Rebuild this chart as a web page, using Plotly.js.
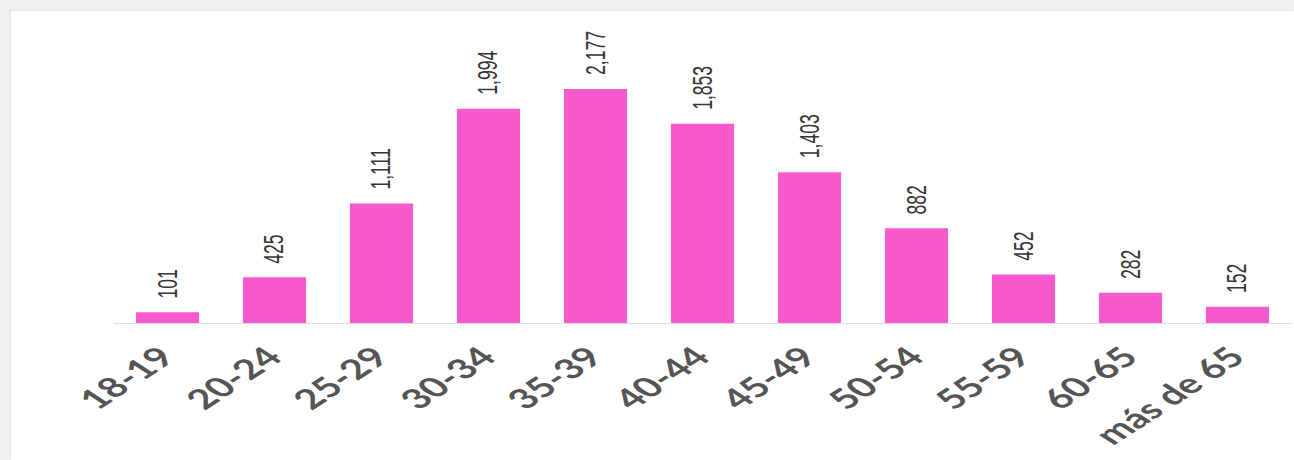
<!DOCTYPE html>
<html>
<head>
<meta charset="utf-8">
<script src="https://cdn.plot.ly/plotly-3.0.1.min.js"></script>
<style>
  html, body { margin: 0; padding: 0; width: 1294px; height: 460px; overflow: hidden; background: #efefef; }
  #wrap { position: absolute; left: 11px; top: 11px; width: 1283px; height: 449px; background: #fff; box-shadow: -1px -1px 0 #e4e4e4; overflow: hidden; }
  #chart { width: 1283px; height: 691px; transform: scaleY(0.65); transform-origin: 0 0; }
</style>
</head>
<body>
<div id="wrap"><div id="chart"></div></div>
<script>
const categories = ["18-19", "20-24", "25-29", "30-34", "35-39", "40-44", "45-49", "50-54", "55-59", "60-65", "más de 65"];
const values = [101, 425, 1111, 1994, 2177, 1853, 1403, 882, 452, 282, 152];

const barColor = "#F65ACD";

const annotations = categories.map((c, i) => ({
  x: c,
  y: values[i],
  xref: "x",
  yref: "y",
  text: values[i].toLocaleString("en-US"),
  showarrow: false,
  textangle: -90,
  yanchor: "bottom",
  xanchor: "center",
  yshift: 19,
  font: { family: "Liberation Sans, Arial, sans-serif", size: 27, color: "#363636" }
}));

const trace = {
  type: "bar",
  x: categories,
  y: values,
  marker: { color: barColor },
  hoverinfo: "x+y"
};

const layout = {
  width: 1283,
  height: 691,
  margin: { l: 103, r: 3, t: 29, b: 211 },
  paper_bgcolor: "#ffffff",
  plot_bgcolor: "#ffffff",
  bargap: 0.41,
  showlegend: false,
  xaxis: {
    type: "category",
    showline: true,
    linecolor: "#dcdcdc",
    linewidth: 2,
    ticks: "",
    tickangle: -45,
    ticklabelstandoff: 9,
    ticklabelshift: -5,
    automargin: false,
    tickfont: { family: "Lato, Noto Sans, sans-serif", size: 42, color: "#555555", weight: "bold" },
    showgrid: false,
    zeroline: false
  },
  yaxis: {
    range: [0, 2727],
    visible: false,
    showgrid: false,
    zeroline: false,
    fixedrange: true
  },
  annotations: annotations
};

Plotly.newPlot("chart", [trace], layout, { displayModeBar: false, staticPlot: true });
</script>
</body>
</html>
